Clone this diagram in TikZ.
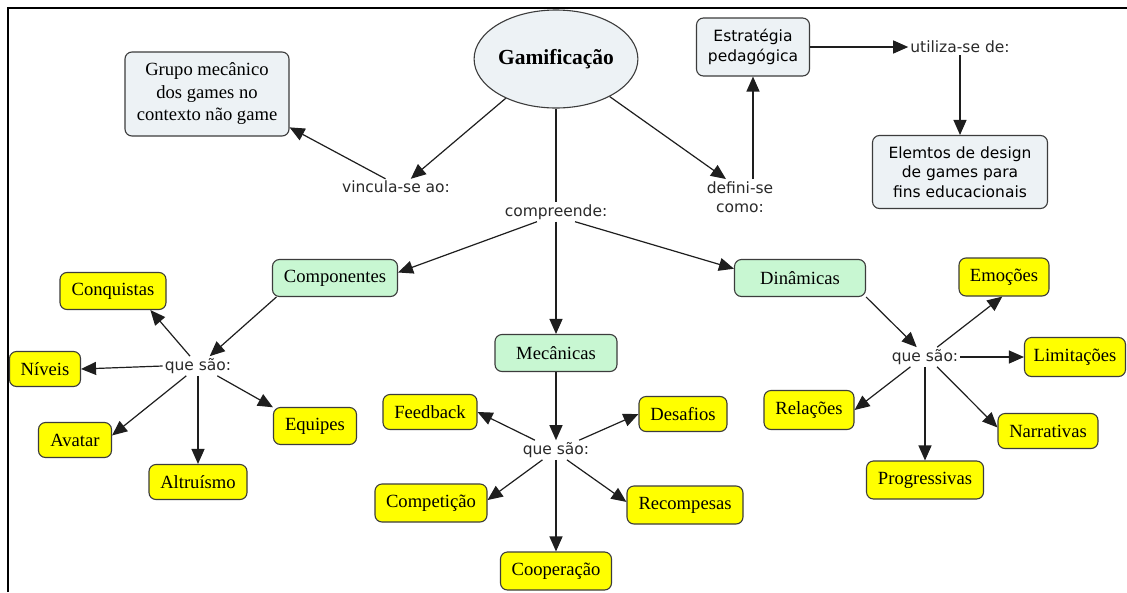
\documentclass[tikz,border=0pt]{standalone}
\usepackage{fontspec}
\setmainfont{Liberation Serif}
\newfontfamily\sansf{DejaVu Sans}
\usetikzlibrary{shapes.geometric,arrows.meta}
\definecolor{bordc}{HTML}{3C3C3C}
\definecolor{linec}{HTML}{1E1E1E}
\definecolor{yelc}{HTML}{FFFF00}
\definecolor{grnc}{HTML}{C8F7D2}
\definecolor{gryc}{HTML}{EDF2F5}
\definecolor{txtc}{HTML}{2A2A2A}
\tikzset{
  conc/.style={draw=bordc, line width=1.1pt, rounded corners=7pt, text=black,
    font=\fontsize{18.6}{22.5}\selectfont, inner sep=2pt, minimum height=37pt, align=center},
  yel/.style={conc, fill=yelc},
  grn/.style={conc, fill=grnc},
  gry/.style={conc, fill=gryc},
  sansbox/.style={font=\sansf\fontsize{15.5}{19.5}\selectfont},
  lnk/.style={font=\sansf\fontsize{15.5}{19.5}\selectfont, inner sep=2pt, align=center, text=txtc},
  arr/.style={draw=linec, line width=1.2pt, -{Triangle[length=15pt,width=13pt]}},
  plain/.style={draw=linec, line width=1.2pt},
}
\begin{document}
\begin{tikzpicture}[x=1pt,y=-1pt]
\useasboundingbox (0,0) rectangle (1127,592);
\fill[white] (0,0) rectangle (1127,592);
\draw[line width=2.5pt] (8,592) -- (8,8) -- (1127,8);

% top
\node[ellipse, draw=bordc, line width=1.1pt, fill=gryc, minimum width=163pt, minimum height=98pt, inner sep=0pt,
  font=\bfseries\fontsize{21.5}{25}\selectfont] (gam) at (556,59) {Gamificação};
\node[gry, minimum width=164pt, minimum height=84pt] (grupo) at (207,94) {Grupo mecânico\\dos games no\\contexto não game};
\node[lnk] (vinc) at (396,187) {vincula-se ao:};
\node[lnk] (comp) at (556,212) {compreende:};
\node[lnk] (defi) at (740,197) {defini-se\\como:};
\node[gry, sansbox, minimum width=113pt, minimum height=58pt] (estr) at (753,47) {Estratégia\\pedagógica};
\node[lnk] (util) at (960,47) {utiliza-se de:};
\node[gry, sansbox, minimum width=175pt, minimum height=73pt] (elem) at (960,172) {Elemtos de design\\de games para\\fins educacionais};

% green
\node[grn, minimum width=125pt] (compo) at (335,278) {Componentes};
\node[grn, minimum width=122pt] (meca) at (556,353) {Mecânicas};
\node[grn, minimum width=131pt] (dina) at (800,278) {Dinâmicas};

% left cluster
\node[lnk] (qsL) at (198,366) {que são:};
\node[yel, minimum width=106pt] (conq) at (113,291) {Conquistas};
\node[yel, minimum width=71pt, minimum height=35pt] (niv) at (45,369) {Níveis};
\node[yel, minimum width=73pt, minimum height=35pt] (avat) at (75,440) {Avatar};
\node[yel, minimum width=98pt, minimum height=35pt] (altr) at (198,482) {Altruísmo};
\node[yel, minimum width=83pt] (equi) at (315,426) {Equipes};

% middle cluster
\node[lnk] (qsM) at (556,450) {que são:};
\node[yel, minimum width=94pt, minimum height=35pt] (feed) at (430,412) {Feedback};
\node[yel, minimum width=88pt, minimum height=35pt] (desa) at (683,414) {Desafios};
\node[yel, minimum width=112pt, minimum height=38pt] (compet) at (431,503) {Competição};
\node[yel, minimum width=116pt, minimum height=38pt] (reco) at (685,505) {Recompesas};
\node[yel, minimum width=111pt, minimum height=38pt] (coop) at (556,571) {Cooperação};

% right cluster
\node[lnk] (qsR) at (925,357) {que são:};
\node[yel, minimum width=90pt, minimum height=38pt] (emoc) at (1004,277) {Emoções};
\node[yel, minimum width=101pt, minimum height=39pt] (limi) at (1075,357) {Limitações};
\node[yel, minimum width=90pt, minimum height=39pt] (rela) at (809,410) {Relações};
\node[yel, minimum width=100pt, minimum height=35pt] (narr) at (1048,431) {Narrativas};
\node[yel, minimum width=117pt, minimum height=38pt] (prog) at (925,480) {Progressivas};

% connectors top
\draw[arr] (gam.218) -- (vinc.29);
\draw[arr] (vinc.142) -- (grupo.-22);
\draw[plain] (gam.south) -- (comp.north);
\draw[arr] (gam.-35) -- (defi.128);
\draw[arr] (estr.south |- defi.north) -- (estr.south);
\draw[arr] (estr.east) -- (util.west);
\draw[arr] (util.south) -- (elem.north);
\draw[arr] (comp.207) -- (compo.5);
\draw[arr] (comp.south) -- (meca.north);
\draw[arr] (comp.-27) -- (dina.172);

% left
\draw[arr] (compo.-162) -- (qsL.40);
\draw[arr] (qsL.129) -- (conq.-27);
\draw[arr] (qsL.west) -- (niv.east);
\draw[arr] (qsL.-140) -- (avat.7);
\draw[arr] (qsL.south) -- (altr.north);
\draw[arr] (qsL.-27) -- (equi.156);

% middle
\draw[arr] (meca.south) -- (qsM.north);
\draw[arr] (qsM.155) -- (feed.east);
\draw[arr] (qsM.23) -- (desa.west);
\draw[arr] (qsM.-144) -- (compet.3);
\draw[arr] (qsM.-42) -- (reco.177);
\draw[arr] (qsM.south) -- (coop.north);

% right
\draw[arr] (dina.-16) -- (qsR.130);
\draw[arr] (qsR.39) -- (emoc.-95);
\draw[arr] (qsR.east) -- (limi.west);
\draw[arr] (qsR.-146) -- (rela.east);
\draw[arr] (qsR.south) -- (prog.north);
\draw[arr] (qsR.-39) -- (narr.176);
\end{tikzpicture}
\end{document}
